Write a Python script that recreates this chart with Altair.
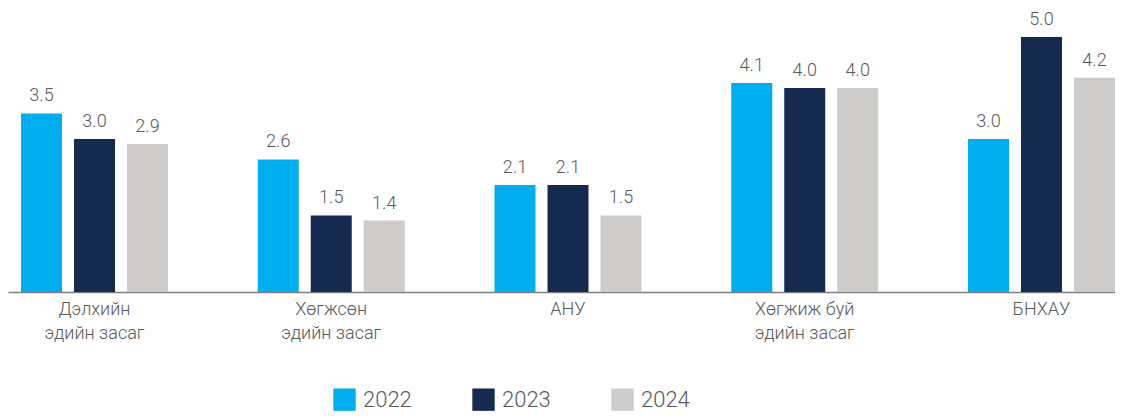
import altair as alt
import pandas as pd

categories = ["Дэлхийн|эдийн засаг", "Хөгжсөн|эдийн засаг", "АНУ", "Хөгжиж буй|эдийн засаг", "БНХАУ"]
years = ["2022", "2023", "2024"]
v2022 = [3.5, 2.6, 2.1, 4.1, 3.0]
v2023 = [3.0, 1.5, 2.1, 4.0, 5.0]
v2024 = [2.9, 1.4, 1.5, 4.0, 4.2]
colors = ["#00AEEF", "#16294F", "#CDCCCB"]

rows = []
for i, c in enumerate(categories):
    for y, vals in zip(years, [v2022, v2023, v2024]):
        rows.append({"cat": c, "year": y, "value": vals[i]})
df = pd.DataFrame(rows)

FONT = "Roboto"
TXT = "#595959"

base = alt.Chart(df).encode(
    x=alt.X("cat:N", sort=categories, title=None,
            scale=alt.Scale(paddingInner=0.3791, paddingOuter=0.02745, align=1.0),
            axis=alt.Axis(labelAngle=0, ticks=False, domainColor="#7f7f7f", domainWidth=1.5,
                          labelExpr="split(datum.label, '|')", labelFont=FONT,
                          labelFontWeight=300, labelFontSize=18, labelColor=TXT,
                          labelLineHeight=24, labelPadding=8, labelBaseline="top")),
    xOffset=alt.XOffset("year:N", scale=alt.Scale(paddingInner=0.2264, paddingOuter=0)),
    y=alt.Y("value:Q", scale=alt.Scale(domain=[0, 5.529], nice=False, zero=True), axis=None),
)

bars = base.mark_bar().encode(
    color=alt.Color("year:N", scale=alt.Scale(domain=years, range=colors),
                    legend=alt.Legend(title=None, orient="none", direction="horizontal",
                                      legendX=325, legendY=378, symbolType="square",
                                      symbolSize=500, symbolStrokeWidth=0, symbolOpacity=1,
                                      labelFont=FONT, labelFontWeight=300, labelFontSize=22,
                                      labelColor=TXT, labelOffset=7, columnPadding=60))
)

labels = base.mark_text(baseline="alphabetic", dy=-12, font=FONT, fontWeight=300,
                        fontSize=18, color=TXT).encode(text=alt.Text("value:Q", format=".1f"))

chart = (bars + labels).properties(
    width=1107, height=282,
    padding={"top": 2, "left": 0, "right": 0, "bottom": 0},
).configure_view(stroke=None)

chart.save("out.html", embed_options={"renderer": "svg", "actions": False})
